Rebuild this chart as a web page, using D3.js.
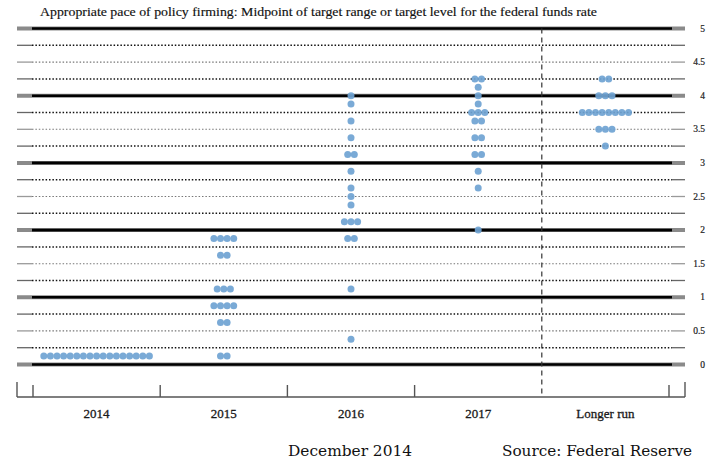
<!DOCTYPE html>
<html>
<head>
<meta charset="utf-8">
<script src="https://cdn.jsdelivr.net/npm/d3@7"></script>
<style>
  html, body { margin: 0; padding: 0; background: #fff; }
  svg { display: block; }
</style>
</head>
<body>
<svg id="chart" width="716" height="470"></svg>
<script>
// ---------------- data ----------------
const title = "Appropriate pace of policy firming: Midpoint of target range or target level for the federal funds rate";
const categories = ["2014", "2015", "2016", "2017", "Longer run"];
const yTickValues = [0, 0.5, 1, 1.5, 2, 2.5, 3, 3.5, 4, 4.5, 5];
const yTickLabels = ["0", "0.5", "1", "1.5", "2", "2.5", "3", "3.5", "4", "4.5", "5"];

const levels2014 = [0.125];
const counts2014 = [17];
const levels2015 = [0.125, 0.625, 0.875, 1.125, 1.625, 1.875];
const counts2015 = [2, 2, 4, 3, 2, 4];
const levels2016 = [0.375, 1.125, 1.875, 2.125, 2.375, 2.5, 2.625, 2.875, 3.125, 3.375, 3.625, 3.875, 4.0];
const counts2016 = [1, 1, 2, 3, 1, 1, 1, 1, 2, 1, 1, 1, 1];
const levels2017 = [2.0, 2.625, 2.875, 3.125, 3.375, 3.625, 3.75, 3.875, 4.0, 4.125, 4.25];
const counts2017 = [1, 1, 1, 2, 2, 2, 3, 1, 1, 1, 2];
const levelsLonger = [3.25, 3.5, 3.75, 4.0, 4.25];
const countsLonger = [1, 3, 8, 3, 2];

const footerLeft = "December 2014";
const footerRight = "Source: Federal Reserve";

// ---------------- build ----------------
const seriesLevels = [levels2014, levels2015, levels2016, levels2017, levelsLonger];
const seriesCounts = [counts2014, counts2015, counts2016, counts2017, countsLonger];

const svg = d3.select("#chart");
const lineLeft = 17, lineRight = 685, innerLeft = 32, innerRight = 672;
const axisY = 397;

const x = d3.scaleBand().domain(categories).range([33, 669]).paddingInner(0).paddingOuter(0);
const y = d3.scaleLinear().domain([0, 5]).range([364.5, 28.5]);

// title
svg.append("text")
  .attr("x", 40).attr("y", 16)
  .attr("font-family", "'Liberation Serif', serif")
  .attr("font-size", 12)
  .attr("fill", "#111")
  .attr("stroke", "#111").attr("stroke-width", 0.15)
  .attr("textLength", 557)
  .attr("lengthAdjust", "spacingAndGlyphs")
  .text(title);

// gridlines
const gridVals = d3.range(0, 5.0001, 0.25);
const grid = svg.append("g");
gridVals.forEach(v => {
  const yy = y(v);
  const isInt = Math.abs(v - Math.round(v)) < 1e-6;
  const isHalf = !isInt && Math.abs(v * 2 - Math.round(v * 2)) < 1e-6;
  if (isInt) {
    grid.append("line").attr("x1", lineLeft).attr("x2", lineRight).attr("y1", yy).attr("y2", yy)
      .attr("stroke", "#8a8a8a").attr("stroke-width", 4);
    grid.append("line").attr("x1", innerLeft).attr("x2", innerRight).attr("y1", yy).attr("y2", yy)
      .attr("stroke", "#000").attr("stroke-width", 2.6);
  } else {
    const endCol = isHalf ? "#9a9a9a" : "#666";
    grid.append("line").attr("x1", lineLeft).attr("x2", innerLeft).attr("y1", yy).attr("y2", yy)
      .attr("stroke", endCol).attr("stroke-width", 1.3);
    grid.append("line").attr("x1", innerRight).attr("x2", lineRight).attr("y1", yy).attr("y2", yy)
      .attr("stroke", endCol).attr("stroke-width", 1.3);
    grid.append("line").attr("x1", innerLeft).attr("x2", innerRight).attr("y1", yy).attr("y2", yy)
      .attr("stroke", isHalf ? "#777" : "#111").attr("stroke-width", isHalf ? 1.1 : 1.5)
      .attr("stroke-dasharray", "1.5,1.9");
  }
});

// right tick labels
svg.append("g").selectAll("text")
  .data(yTickValues)
  .join("text")
  .attr("x", 705)
  .attr("y", d => y(d) + 3)
  .attr("text-anchor", "end")
  .attr("font-family", "'Liberation Serif', serif")
  .attr("font-size", 9.5)
  .attr("fill", "#222")
  .attr("stroke", "#222").attr("stroke-width", 0.2)
  .text((d, i) => yTickLabels[i]);

// dashed divider before "Longer run"
svg.append("line")
  .attr("x1", x("Longer run")).attr("x2", x("Longer run"))
  .attr("y1", y(5)).attr("y2", axisY)
  .attr("stroke", "#333").attr("stroke-width", 1.2)
  .attr("stroke-dasharray", "5,4");

// bottom axis line
svg.append("line").attr("x1", lineLeft).attr("x2", lineRight).attr("y1", axisY).attr("y2", axisY)
  .attr("stroke", "#555").attr("stroke-width", 1.4);
// end ticks
[lineLeft, lineRight].forEach(xx => {
  svg.append("line").attr("x1", xx).attr("x2", xx).attr("y1", axisY - 15).attr("y2", axisY)
    .attr("stroke", "#555").attr("stroke-width", 1.4);
});
// category boundary ticks
const boundaries = categories.map(c => x(c)).concat([x(categories[categories.length - 1]) + x.bandwidth()]);
boundaries.forEach((b, i) => {
  if (categories[i] === "Longer run") return;
  svg.append("line").attr("x1", b).attr("x2", b).attr("y1", axisY - 12).attr("y2", axisY)
    .attr("stroke", "#555").attr("stroke-width", 1.4);
});

// category labels via axis
const xAxis = d3.axisBottom(x).tickSize(0).tickPadding(0);
const gx = svg.append("g").attr("transform", `translate(0,${axisY + 12})`).call(xAxis);
gx.select(".domain").remove();
gx.selectAll("text")
  .attr("font-family", "'Liberation Serif', serif")
  .attr("font-size", 13)
  .attr("fill", "#1a1a1a")
  .attr("stroke", "#1a1a1a").attr("stroke-width", 0.3)
  .attr("dy", "0.71em");

// dots
const dotR = 3.5, dotStep = 6.6;
const dots = [];
categories.forEach((c, ci) => {
  const cx = x(c) + x.bandwidth() / 2;
  seriesLevels[ci].forEach((lv, li) => {
    const n = seriesCounts[ci][li];
    for (let k = 0; k < n; k++) {
      dots.push({ cx: cx + (k - (n - 1) / 2) * dotStep, v: lv });
    }
  });
});
svg.append("g").selectAll("circle")
  .data(dots)
  .join("circle")
  .attr("cx", d => d.cx)
  .attr("cy", d => y(d.v))
  .attr("r", dotR)
  .attr("fill", "#6fa3d2")
  .attr("fill-opacity", 0.92);

// footer
svg.append("text")
  .attr("x", 288).attr("y", 456)
  .attr("font-family", "'DejaVu Serif', serif")
  .attr("font-size", 14.5)
  .attr("fill", "#111")
  .attr("textLength", 124)
  .attr("lengthAdjust", "spacingAndGlyphs")
  .text(footerLeft);
svg.append("text")
  .attr("x", 502).attr("y", 456)
  .attr("font-family", "'DejaVu Serif', serif")
  .attr("font-size", 14.5)
  .attr("fill", "#111")
  .attr("textLength", 190)
  .attr("lengthAdjust", "spacingAndGlyphs")
  .text(footerRight);
</script>
</body>
</html>
